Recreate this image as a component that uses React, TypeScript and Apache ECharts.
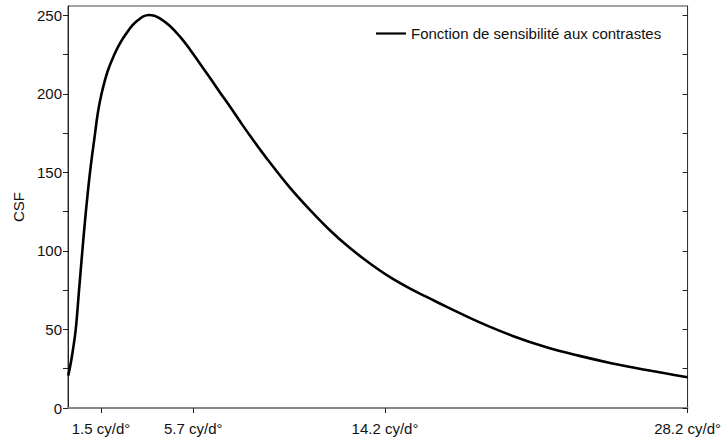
import React, { useEffect, useRef } from "react";
import * as echarts from "echarts";

const freq = [0.01, 0.11, 0.21, 0.35, 0.5, 0.65, 0.81, 1.0, 1.23, 1.36, 1.53, 1.8, 2.11, 2.39, 2.67, 2.93, 3.2, 3.43, 3.68, 3.93, 4.18, 4.64, 5.09, 5.55, 6.0, 6.46, 6.91, 7.37, 7.82, 8.28, 9.19, 10.1, 11.0, 11.92, 12.82, 13.73, 14.64, 15.55, 16.46, 17.24, 18.74, 20.24, 21.78, 23.28, 24.78, 26.33, 28.2];
const csf = [20.6, 27.4, 35.7, 49.7, 74.6, 99.5, 124.4, 149.9, 174.7, 188.1, 200.3, 214.3, 225.1, 232.8, 238.8, 243.6, 247.1, 249.4, 250.3, 249.8, 248.1, 243.3, 236.6, 228.3, 219.4, 210.3, 201.1, 192.0, 182.7, 173.5, 156.3, 140.3, 126.3, 113.2, 102.0, 92.2, 83.5, 76.2, 69.8, 64.4, 54.5, 45.9, 38.7, 33.2, 28.4, 24.2, 19.6];

const xTickPositions = [1.5, 5.7, 14.43, 28.2];
const xTickLabels = ["1.5 cy/d°", "5.7 cy/d°", "14.2 cy/d°", "28.2 cy/d°"];
const yTicks = [0, 25, 50, 75, 100, 125, 150, 175, 200, 225, 250];
const yLabels = [0, 50, 100, 150, 200, 250];
const seriesName = "Fonction de sensibilité aux contrastes";
const yName = "CSF";

const FONT = "Liberation Sans, Arial, Helvetica, sans-serif";

export default function App() {
  const ref = useRef<HTMLDivElement>(null);
  useEffect(() => {
    if (!ref.current) return;
    const chart = echarts.init(ref.current, undefined, { renderer: "svg" });
    const data = freq.map((f, i) => [f, csf[i]]);
    chart.setOption({
      animation: false,
      backgroundColor: "#ffffff",
      textStyle: { fontFamily: FONT },
      grid: {
        left: 68,
        right: 36,
        top: 6,
        bottom: 31,
        show: true,
        borderColor: "#444",
        borderWidth: 1,
        backgroundColor: "transparent",
      },
      legend: {
        show: true,
        left: 371,
        top: 21,
        itemWidth: 30,
        itemHeight: 14,
        itemGap: 5,
        data: [{ name: seriesName, icon: "path://M0,0 L30,0 L30,2.2 L0,2.2 Z" }],
        textStyle: { fontFamily: FONT, fontSize: 15, color: "#111" },
      },
      xAxis: {
        type: "value",
        min: 0,
        max: 28.2,
        axisLine: { show: true, lineStyle: { color: "#888", width: 2 } },
        axisTick: {
          show: true,
          length: 5,
          customValues: xTickPositions,
          lineStyle: { color: "#222", width: 1 },
        },
        axisLabel: {
          customValues: xTickPositions,
          formatter: (v: number) => {
            const i = xTickPositions.findIndex((p) => Math.abs(p - v) < 1e-6);
            return i >= 0 ? xTickLabels[i] : "";
          },
          margin: 13,
          fontSize: 15,
          fontFamily: FONT,
          color: "#111",
        },
        splitLine: { show: false },
      },
      yAxis: [
        {
          type: "value",
          min: 0,
          max: 256,
          position: "left",
          name: yName,
          nameLocation: "middle",
          nameGap: 42,
          nameTextStyle: { fontFamily: FONT, fontSize: 15, color: "#111" },
          axisLine: { show: true, lineStyle: { color: "#222", width: 1 } },
          axisTick: {
            show: true,
            length: 5,
            customValues: yTicks,
            lineStyle: { color: "#222", width: 1 },
          },
          axisLabel: {
            customValues: yLabels,
            margin: 6,
            fontSize: 15,
            fontFamily: FONT,
            color: "#111",
          },
          splitLine: { show: false },
        },
        {
          type: "value",
          min: 0,
          max: 256,
          position: "right",
          axisLine: { show: true, lineStyle: { color: "#333", width: 1 } },
          axisTick: {
            show: true,
            inside: true,
            length: 5,
            customValues: yTicks,
            lineStyle: { color: "#222", width: 1 },
          },
          axisLabel: { show: false },
          splitLine: { show: false },
        },
      ],
      series: [
        {
          name: seriesName,
          type: "line",
          data,
          yAxisIndex: 0,
          smooth: 0.4,
          symbol: "none",
          showSymbol: false,
          lineStyle: { color: "#000", width: 2.6 },
          itemStyle: { color: "#000" },
        },
      ],
    });
    return () => chart.dispose();
  }, []);
  return (
    <div
      ref={ref}
      style={{ position: "fixed", left: 0, top: 0, width: 724, height: 439, background: "#fff" }}
    />
  );
}
